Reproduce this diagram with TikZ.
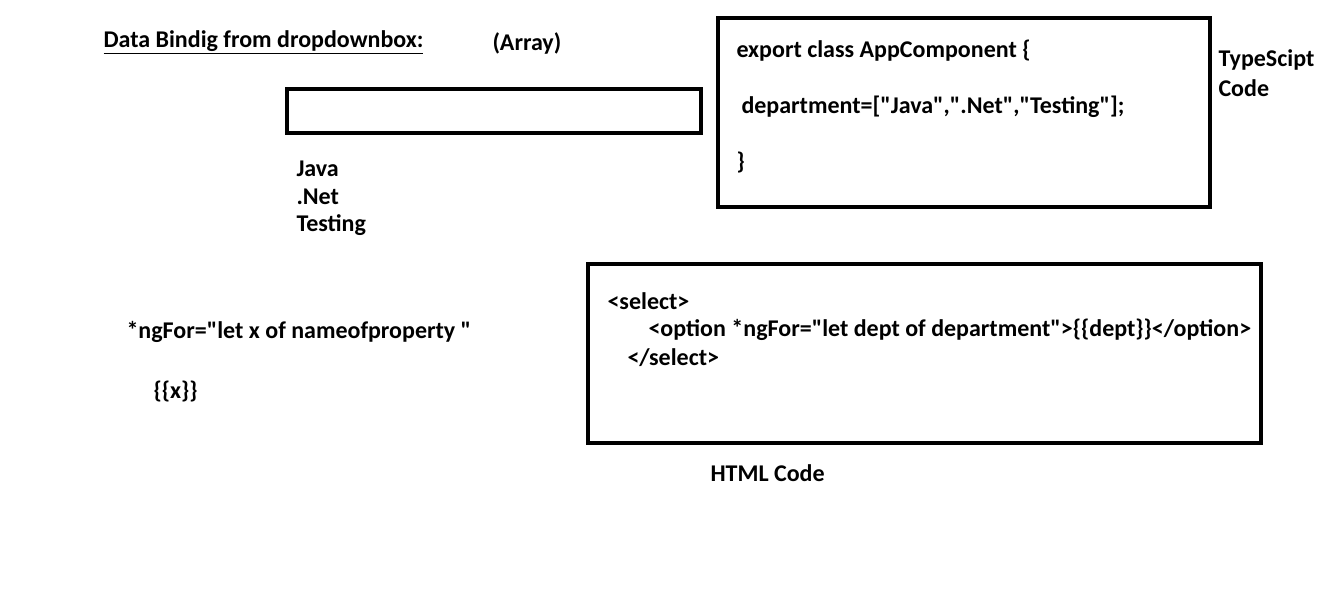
\documentclass[tikz,border=0pt]{standalone}
\usepackage{fontspec}
\setmainfont{Carlito}[Ligatures=TeXOff]
\usetikzlibrary{positioning}

\tikzset{every picture/.style={line width=0.75pt}}
\tikzset{
  codebox/.style={draw, line width=3pt},
  label/.style={anchor=west, inner sep=0pt, font=\bfseries\fontsize{18}{21}\selectfont},
}

\begin{document}
\begin{tikzpicture}[x=0.75pt,y=0.75pt,yscale=-1,xscale=1]
\useasboundingbox (0,0) rectangle (1324,592);

%Shape: Rectangle [id:dropdown] 
\draw [codebox] (287,89) rectangle (701,133) ;
%Shape: Rectangle [id:tsbox] 
\draw [codebox] (718,18) rectangle (1210,207) ;
%Shape: Rectangle [id:htmlbox] 
\draw [codebox] (588,264) rectangle (1261,443) ;

% Text Node
\node [label] (title) at (103,42) {\underline{Data Bindig from dropdownbox:}};
% Text Node
\node [label] (array) at (492,43) {(Array)};
% Text Node
\node [label] (java) at (296,169) {Java};
% Text Node
\node [label] (net) at (296,197) {.Net};
% Text Node
\node [label] (testing) at (296,225) {Testing};
% Text Node
\node [label] (export) at (736,51) {export class AppComponent \{};
% Text Node
\node [label] (dept) at (741,107) {department=["Java",".Net","Testing"];};
% Text Node
\node [label] (close) at (736,163) {\}};
% Text Node
\node [label] (ts) at (1218,60) {TypeScipt};
% Text Node
\node [label] (tscode) at (1218,88) {Code};
% Text Node
\node [label] (select) at (607,301) {<select>};
% Text Node
\node [label] (option) at (648,330) {<option *ngFor="let dept of department">\{\{dept\}\}</option>};
% Text Node
\node [label] (endselect) at (627,358) {</select>};
% Text Node
\node [label] (html) at (710,473) {HTML Code};
% Text Node
\node [label] (ngfor) at (126,332) {*ngFor="let x of nameofproperty "};
% Text Node
\node [label] (x) at (153,392) {\{\{x\}\}};

\end{tikzpicture}
\end{document}
